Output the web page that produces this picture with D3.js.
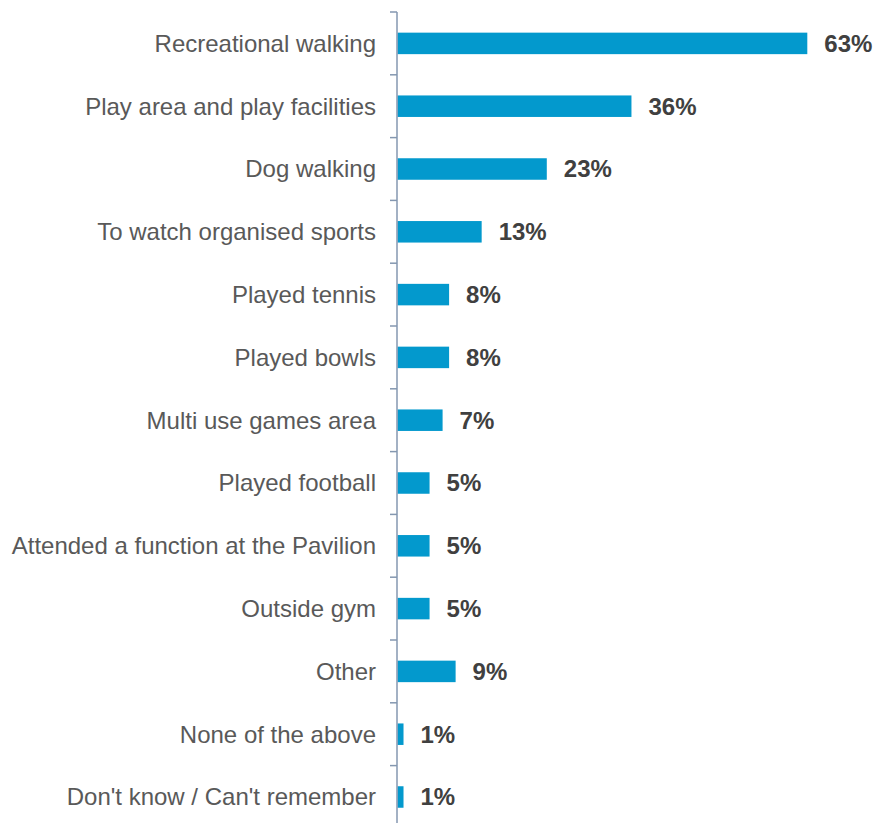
<!DOCTYPE html>
<html>
<head>
<meta charset="utf-8">
<script src="https://cdn.jsdelivr.net/npm/d3@7"></script>
<style>
  html, body { margin: 0; padding: 0; background: #fff; }
  svg { display: block; }
</style>
</head>
<body>
<svg id="chart" width="874" height="823"></svg>
<script>
// Activities reported at the park (% of respondents)
const categories = [
  "Recreational walking",
  "Play area and play facilities",
  "Dog walking",
  "To watch organised sports",
  "Played tennis",
  "Played bowls",
  "Multi use games area",
  "Played football",
  "Attended a function at the Pavilion",
  "Outside gym",
  "Other",
  "None of the above",
  "Don't know / Can't remember"
];
const values = [63, 36, 23, 13, 8, 8, 7, 5, 5, 5, 9, 1, 1];
const valueLabels = ["63%", "36%", "23%", "13%", "8%", "8%", "7%", "5%", "5%", "5%", "9%", "1%", "1%"];

const svg = d3.select("#chart");
const axisX = 397;
const plotTop = 12;
const step = 62.8;
const barH = 21.5;

const x = d3.scaleLinear().domain([0, 63]).range([axisX, axisX + 410.3]);
const y = d3.scaleBand()
  .domain(categories)
  .range([plotTop, plotTop + step * categories.length]);

// Bars
svg.append("g").selectAll("rect")
  .data(categories)
  .join("rect")
  .attr("x", x(0) + 0.5)
  .attr("y", d => y(d) + (y.bandwidth() - barH) / 2)
  .attr("width", (d, i) => x(values[i]) - x(0) - 0.5)
  .attr("height", barH)
  .attr("fill", "#0399cd");

// Category axis with ticks on band boundaries
const axisG = svg.append("g");
axisG.append("line")
  .attr("x1", axisX).attr("x2", axisX)
  .attr("y1", plotTop).attr("y2", plotTop + step * categories.length)
  .attr("stroke", "#8497b0").attr("stroke-width", 1.5);
axisG.selectAll("line.tick")
  .data(d3.range(categories.length + 1))
  .join("line")
  .attr("class", "tick")
  .attr("x1", axisX - 7).attr("x2", axisX)
  .attr("y1", i => plotTop + i * step).attr("y2", i => plotTop + i * step)
  .attr("stroke", "#8497b0").attr("stroke-width", 1.5);

// Category labels
svg.append("g").selectAll("text")
  .data(categories)
  .join("text")
  .attr("x", axisX - 21)
  .attr("y", d => y(d) + y.bandwidth() / 2)
  .attr("dy", "0.35em")
  .attr("text-anchor", "end")
  .attr("font-family", "Liberation Sans, Arial, sans-serif")
  .attr("font-size", 24)
  .attr("fill", "#595959")
  .text(d => d);

// Value labels
svg.append("g").selectAll("text")
  .data(categories)
  .join("text")
  .attr("x", (d, i) => x(values[i]) + 17)
  .attr("y", d => y(d) + y.bandwidth() / 2)
  .attr("dy", "0.35em")
  .attr("font-family", "Liberation Sans, Arial, sans-serif")
  .attr("font-size", 24)
  .attr("font-weight", "bold")
  .attr("fill", "#404040")
  .text((d, i) => valueLabels[i]);
</script>
</body>
</html>
